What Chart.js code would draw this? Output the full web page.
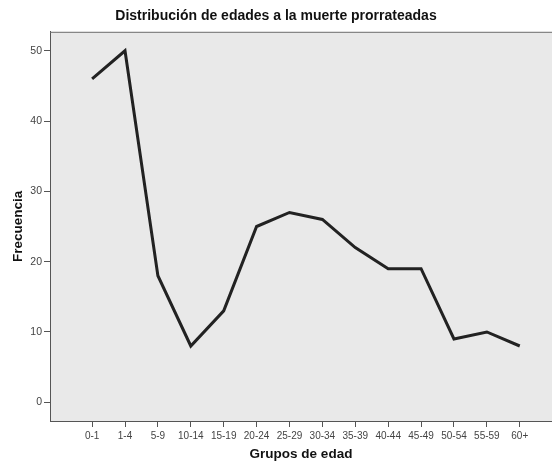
<!DOCTYPE html>
<html>
<head>
<meta charset="utf-8">
<script src="https://cdn.jsdelivr.net/npm/chart.js@4/dist/chart.umd.min.js"></script>
<style>
  html, body { margin: 0; padding: 0; background: #fff; }
  canvas { display: block; }
</style>
</head>
<body>
<canvas id="myChart" width="552" height="462"></canvas>
<script>
"use strict";

const labels = ["0-1", "1-4", "5-9", "10-14", "15-19", "20-24", "25-29", "30-34", "35-39", "40-44", "45-49", "50-54", "55-59", "60+"];
const frecuencia = [46, 50, 18, 8, 13, 25, 27, 26, 22, 19, 19, 9, 10, 8];
const yTicks = [0, 10, 20, 30, 40, 50];

// fondo gris del area del grafico y borde superior
const plotBackground = {
  id: "plotBackground",
  beforeDraw(chart) {
    const { ctx, chartArea } = chart;
    ctx.save();
    ctx.fillStyle = "#e9e9e9";
    ctx.fillRect(chartArea.left, chartArea.top, chartArea.right - chartArea.left, chartArea.bottom - chartArea.top);
    ctx.restore();
  },
  afterDraw(chart) {
    const { ctx, chartArea } = chart;
    ctx.save();
    ctx.strokeStyle = "#6e6e6e";
    ctx.lineWidth = 1;
    ctx.beginPath();
    ctx.moveTo(chartArea.left, chartArea.top + 0.5);
    ctx.lineTo(chartArea.right, chartArea.top + 0.5);
    ctx.stroke();
    ctx.restore();
  },
};

const ctx = document.getElementById("myChart");

new Chart(ctx, {
  type: "line",
  data: {
    datasets: [
      {
        label: "Frecuencia",
        data: frecuencia.map((v, i) => ({ x: i, y: v })),
        borderColor: "#222222",
        borderWidth: 3,
        pointRadius: 0,
        tension: 0,
        fill: false,
      },
    ],
  },
  options: {
    responsive: false,
    animation: false,
    layout: { padding: 0 },
    plugins: {
      legend: { display: false },
      tooltip: { enabled: false },
      title: {
        display: true,
        text: "Distribución de edades a la muerte prorrateadas",
        color: "#111",
        font: { family: "Liberation Sans", size: 14, weight: "bold" },
        padding: { top: 8, bottom: 7 },
      },
    },
    scales: {
      x: {
        type: "linear",
        min: -1.28,
        max: 13.98,
        afterBuildTicks: (scale) => {
          scale.ticks = labels.map((l, i) => ({ value: i }));
        },
        afterFit: (scale) => {
          scale.height = 41;
        },
        ticks: {
          autoSkip: false,
          maxRotation: 0,
          padding: 3,
          color: "#444",
          font: { family: "Liberation Sans", size: 10 },
          callback: (v) => labels[v],
        },
        grid: { drawOnChartArea: false, drawTicks: true, tickLength: 6, color: "#555" },
        border: { color: "#555", width: 1 },
        title: {
          display: true,
          text: "Grupos de edad",
          color: "#111",
          font: { family: "Liberation Sans", size: 13.5, weight: "bold" },
          padding: { top: 0, bottom: 0 },
        },
      },
      y: {
        min: -2.67,
        max: 52.7,
        afterBuildTicks: (scale) => {
          scale.ticks = yTicks.map((v) => ({ value: v }));
        },
        afterFit: (scale) => {
          scale.width = 50;
        },
        ticks: {
          padding: 2,
          color: "#444",
          font: { family: "Liberation Sans", size: 10.5 },
        },
        grid: { drawOnChartArea: false, drawTicks: true, tickLength: 6, color: "#555" },
        border: { color: "#555", width: 1 },
        title: {
          display: true,
          text: "Frecuencia",
          color: "#111",
          font: { family: "Liberation Sans", size: 13.5, weight: "bold" },
          padding: { top: 10, bottom: 0 },
        },
      },
    },
  },
  plugins: [plotBackground],
});
</script>
</body>
</html>
